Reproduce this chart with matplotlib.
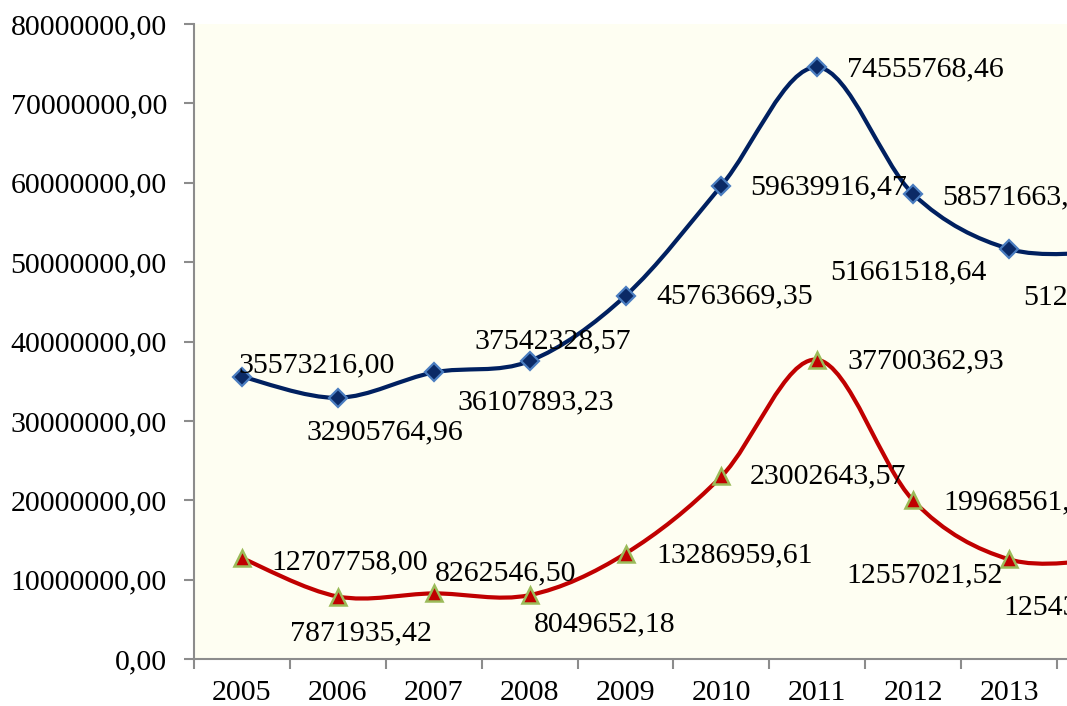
import matplotlib.pyplot as plt
from matplotlib.path import Path
from matplotlib.patches import PathPatch

# --- data ---
years = ["2005", "2006", "2007", "2008", "2009", "2010", "2011", "2012", "2013", "2014"]
blue_values = [35573216.00, 32905764.96, 36107893.23, 37542328.57, 45763669.35,
               59639916.47, 74555768.46, 58571663.12, 51661518.64, 51254736.18]
red_values = [12707758.00, 7871935.42, 8262546.50, 8049652.18, 13286959.61,
              23002643.57, 37700362.93, 19968561.27, 12557021.52, 12543871.06]

# label offsets from each point, in pixels (dx, dy)
blue_offsets = [(75, 11), (47, -35), (102, -30), (23, 20), (109, -1),
                (107, -2), (108, -2), (107, -3), (-101, -23), (-4, -45)]
red_offsets = [(108, -4), (23, -37), (72, 20), (75, -29), (109, -2),
               (107, 0), (108, -2), (108, -2), (-85, -16), (-23, -48)]

plt.rcParams['font.family'] = ['Liberation Serif', 'DejaVu Serif']
FS = 21.5


def smooth_path(xs, ys):
    # Excel-style smoothed line: cubic Bezier with Catmull-Rom control points
    n = len(xs)
    verts = [(xs[0], ys[0])]
    codes = [Path.MOVETO]
    for i in range(n - 1):
        i0 = max(i - 1, 0)
        i3 = min(i + 2, n - 1)
        c1 = (xs[i] + (xs[i + 1] - xs[i0]) / 6, ys[i] + (ys[i + 1] - ys[i0]) / 6)
        c2 = (xs[i + 1] - (xs[i3] - xs[i]) / 6, ys[i + 1] - (ys[i3] - ys[i]) / 6)
        verts += [c1, c2, (xs[i + 1], ys[i + 1])]
        codes += [Path.CURVE4] * 3
    return Path(verts, codes)


def fmt(v):
    return f"{v:.2f}".replace('.', ',')


fig = plt.figure(figsize=(10.67, 7.06), dpi=100)
ax = fig.add_axes([194 / 1067, 1 - 659 / 706, 873 / 1067, 635 / 706])
ax.set_facecolor('#FEFEF2')

x = list(range(len(years)))

ax.add_patch(PathPatch(smooth_path(x, blue_values), fill=False,
                       edgecolor='#002060', lw=3, zorder=3))
ax.add_patch(PathPatch(smooth_path(x, red_values), fill=False,
                       edgecolor='#C00000', lw=3, zorder=3))
ax.plot(x, blue_values, ls='none', marker='D', ms=9, mfc='#0B2A66',
        mec='#4A7DC0', mew=1.6, zorder=4)
ax.plot(x, red_values, ls='none', marker='^', ms=12, mfc='#C00000',
        mec='#9BBB59', mew=1.8, zorder=4)

for xi, v, (dx, dy) in zip(x, blue_values, blue_offsets):
    ax.annotate(fmt(v), (xi, v), xytext=(dx, dy), textcoords='offset pixels',
                ha='center', va='center', fontsize=FS, zorder=5,
                annotation_clip=False)
for xi, v, (dx, dy) in zip(x, red_values, red_offsets):
    ax.annotate(fmt(v), (xi, v), xytext=(dx, dy), textcoords='offset pixels',
                ha='center', va='center', fontsize=FS, zorder=5,
                annotation_clip=False)

yt = list(range(0, 80000001, 10000000))
ax.set_yticks(yt)
ax.set_yticklabels([fmt(v) for v in yt], fontsize=FS)
ax.set_xticks(x)
ax.set_xticklabels(years, fontsize=FS)
ax.set_xticks([i - 0.5 for i in range(len(years) + 1)], minor=True)
ax.tick_params(axis='x', which='major', length=0, pad=15)
ax.tick_params(axis='x', which='minor', length=7.5, width=1.5, color='#8C8C8C')
ax.tick_params(axis='y', length=7.5, width=1.5, color='#8C8C8C', pad=12)

# the plot area runs past the right edge of the picture
ax.set_xlim(-0.5, 8.604)
ax.set_ylim(0, 80000000)

for s in ['top', 'right']:
    ax.spines[s].set_visible(False)
for s in ['left', 'bottom']:
    ax.spines[s].set_color('#8C8C8C')
    ax.spines[s].set_linewidth(1.5)

plt.savefig('out.png', dpi=100)
